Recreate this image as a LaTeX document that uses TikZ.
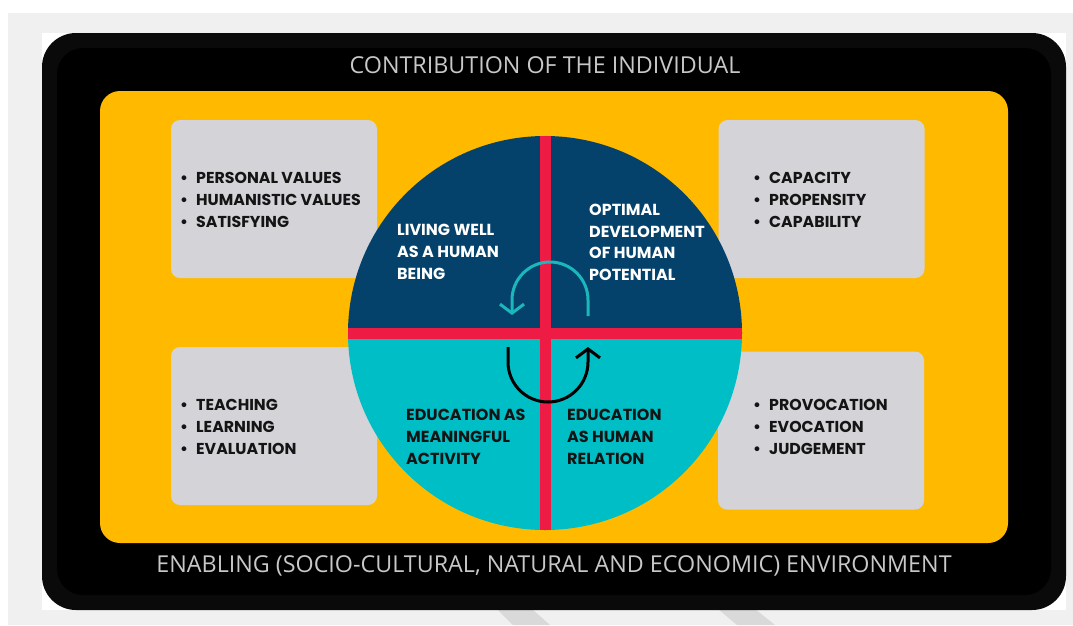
\documentclass[tikz,border=0pt]{standalone}
\usepackage{fontspec}
\setmainfont{Poppins}
\newfontfamily\opensans{Open Sans}
\usetikzlibrary{arrows.meta}
\definecolor{bggray}{HTML}{F0F0F0}
\definecolor{slantgray}{HTML}{D9D9D9}
\definecolor{ringblack}{HTML}{0A0A0A}
\definecolor{myyellow}{HTML}{FFBA00}
\definecolor{boxgray}{HTML}{D4D3D8}
\definecolor{navy}{HTML}{05426B}
\definecolor{aqua}{HTML}{00BEC5}
\definecolor{barred}{HTML}{EE1B45}
\definecolor{tealarrow}{HTML}{1AB7BD}
\definecolor{titlegray}{HTML}{C8C8C8}
\definecolor{inkblack}{HTML}{141414}
\newcommand{\myitem}[1]{\makebox[16pt][l]{\textbullet}#1}
\tikzset{
  panel/.style={inner sep=0pt, rounded corners=#1},
  listbox/.style={panel=9pt, fill=boxgray, minimum width=206pt, minimum height=158pt},
  listtext/.style={anchor=west, align=left, inner sep=0pt, text=inkblack,
    font=\bfseries\fontsize{15.8}{22}\selectfont},
  quadtext/.style={anchor=west, align=left, inner sep=0pt,
    font=\bfseries\fontsize{16}{21.7}\selectfont},
  bandtext/.style={inner sep=0pt, text=titlegray, font=\opensans\fontsize{23.3}{26}\selectfont},
  cyclearrow/.style={line width=3pt, -{Straight Barb[length=9pt,width=24pt,line width=3pt]}}
}
\begin{document}
\begin{tikzpicture}[x=1pt,y=-1pt]
\useasboundingbox (0,0) rectangle (1073,625);
\fill[white] (0,0) rectangle (1073,625);
\fill[bggray] (8,13) rectangle (1073,625);
\fill[slantgray] (497,609) -- (532,609) -- (550,625) -- (513,625) -- cycle;
\fill[slantgray] (718,609) -- (755,609) -- (775,625) -- (737,625) -- cycle;
\fill[white] (42,33) rectangle (1066,610);
% frame
\node[panel=34pt, fill=ringblack, minimum width=1024pt, minimum height=577pt] (frame) at (554,321.5) {};
\node[panel=26pt, fill=black, minimum width=994pt, minimum height=547pt] (frameinner) at (554,321.5) {};
\node[panel=20pt, fill=myyellow, minimum width=908pt, minimum height=452pt] (yellow) at (554,317) {};
% boxes
\node[listbox] (boxLT) at (274,199) {};
\node[listbox] (boxRT) at (821.5,199) {};
\node[listbox] (boxLB) at (274,426) {};
\node[listbox] (boxRB) at (821,430.5) {};
% circle
\node[circle, inner sep=0pt, minimum size=394pt] (circ) at (545,333) {};
\begin{scope}
  \clip (circ.center) circle (197);
  \fill[navy] (340,130) rectangle (750,333);
  \fill[aqua] (340,333) rectangle (750,540);
  \fill[barred] (539.5,130) rectangle (550.5,540);
  \fill[barred] (340,327.5) rectangle (750,338.5);
\end{scope}
% cycle arrows
\draw[cyclearrow, tealarrow] (588,316) -- (588,300) arc[start angle=0, end angle=-180, radius=38] -- (512,315);
\draw[cyclearrow, black] (508,347) -- (508,362) arc[start angle=180, end angle=0, radius=40] -- (588,347);
% texts
\node[bandtext] (top) at (545,65) {CONTRIBUTION OF THE INDIVIDUAL};
\node[bandtext] (bottom) at (554,566) {ENABLING (SOCIO-CULTURAL, NATURAL AND ECONOMIC) ENVIRONMENT};
\node[listtext] (listLT) at (180,200) {\myitem{PERSONAL VALUES}\\\myitem{HUMANISTIC VALUES}\\\myitem{SATISFYING}};
\node[listtext] (listRT) at (753,200) {\myitem{CAPACITY}\\\myitem{PROPENSITY}\\\myitem{CAPABILITY}};
\node[listtext] (listLB) at (180,427) {\myitem{TEACHING}\\\myitem{LEARNING}\\\myitem{EVALUATION}};
\node[listtext] (listRB) at (753,427) {\myitem{PROVOCATION}\\\myitem{EVOCATION}\\\myitem{JUDGEMENT}};
\node[quadtext, text=white] (qLT) at (397,252) {LIVING WELL\\AS A HUMAN\\BEING};
\node[quadtext, text=white] (qRT) at (589,242.5) {OPTIMAL\\DEVELOPMENT\\OF HUMAN\\POTENTIAL};
\node[quadtext, text=inkblack] (qLB) at (406,437) {EDUCATION AS\\MEANINGFUL\\ACTIVITY};
\node[quadtext, text=inkblack] (qRB) at (567,437) {EDUCATION\\AS HUMAN\\RELATION};
\end{tikzpicture}
\end{document}
